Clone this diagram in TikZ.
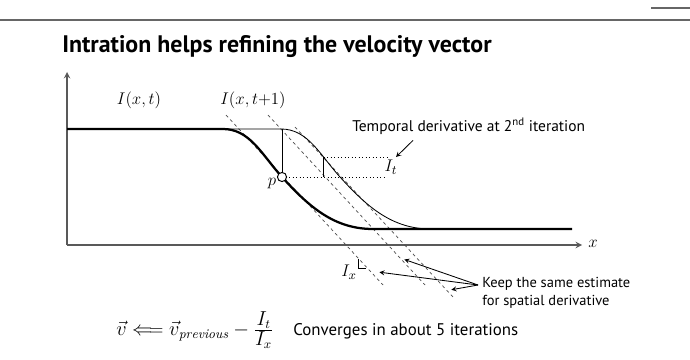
\documentclass[tikz,border=0pt]{standalone}
\usepackage{amsmath}
\usepackage{fontspec}
\setsansfont{PT Sans}
\usepackage{tikz}
\tikzstyle{rule}=[draw=black!60,line width=1.4pt]
\tikzstyle{axis}=[->,>=stealth,draw=black!65,line width=1pt]
\tikzstyle{thickcurve}=[line width=1.6pt]
\tikzstyle{thincurve}=[line width=0.6pt]
\tikzstyle{slope}=[draw=black!70,line width=0.5pt,dash pattern=on 2.2pt off 2.2pt]
\tikzstyle{guide}=[line width=0.5pt,dotted]
\tikzstyle{to}=[->,shorten >=1pt,>=stealth,semithick]
\tikzstyle{lbl}=[font=\sffamily\fontsize{10.3}{12.5}\selectfont,inner sep=0pt]
\tikzstyle{mth}=[font=\fontsize{11.5}{13}\selectfont,inner sep=0pt]

\begin{document}
\begin{tikzpicture}[x=0.025cm,y=-0.025cm]
            \useasboundingbox (0,0) rectangle (690,360);
            \draw[rule] (0,20) -- (690,20);
            \draw[rule,line width=0.8pt] (651,8) -- (690,8);
            \node[anchor=base west,inner sep=0pt,font=\sffamily\bfseries\fontsize{17}{20}\selectfont] (title) at (62,53)
                {Intration helps refining the velocity vector};

            % axes
            \coordinate (O) at (67,245);
            \draw[axis] (O) -- (67,72);
            \draw[axis] (O) -- (582,245);
            \node[mth] (xlab) at (593,244) {$x$};
            \node[mth] (Ixt) at (139,100) {$I(x,t)$};
            \node[mth] (Ixt1) at (253,100) {$I(x,t{+}1)$};

            % slopes
            \draw[slope] (226,115) -- (383,285);
            \draw[slope] (268,115) -- (425,285);
            \draw[slope] (295,127) -- (453,297);

            % image profiles
            \draw[thincurve] (223,129) -- (281,129)
                .. controls (308,129) and (320,155) .. (340,177)
                .. controls (368,208) and (393,229) .. (431,229);
            \draw[thickcurve] (67,129) -- (223,129)
                .. controls (250,129) and (262,155) .. (282,177)
                .. controls (310,208) and (335,229) .. (373,229) -- (572,229);

            % temporal derivative
            \coordinate (top) at (282,129);
            \coordinate (q) at (323.5,157);
            \coordinate (qd) at (323.5,177);
            \draw[guide] (282,177) -- (387,177);
            \draw[guide] (q) -- (387,157);
            \draw[thincurve] (top) -- (282,177);
            \draw[thincurve] (q) -- (qd);
            \node[circle,draw,fill=white,line width=0.7pt,inner sep=0pt,minimum size=6.5pt] (p) at (282,177) {};
            \node[mth,font=\fontsize{12.5}{14}\selectfont] (plab) at (272,184) {$p$};
            \node[mth,font=\fontsize{12.5}{14}\selectfont] (It) at (391,167) {$I_t$};
            \node[lbl,anchor=west,font=\sffamily\fontsize{11}{13}\selectfont] (temporal) at (352,126) {Temporal derivative at 2\textsuperscript{nd} iteration};
            \coordinate (ittip) at (395,158);
            \draw[to] ([shift={(61,6)}]temporal.south west) -- (ittip);

            % spatial derivative
            \draw[thincurve] (358,259) -- (358,268) -- (366,268);
            \node[mth,font=\fontsize{12.5}{14}\selectfont] (Ix) at (349,272) {$I_x$};
            \node[lbl,anchor=north west,align=left] (keep) at (482,277) {Keep the same estimate\\for spatial derivative};
            \coordinate (kp) at (478,285);
            \coordinate (k1) at (403,259);
            \coordinate (k2) at (378,272);
            \coordinate (k3) at (450,290);
            \draw[to] (kp) -- (k1);
            \draw[to] (kp) -- (k2);
            \draw[to] (kp) -- (k3);

            % update rule
            \node[mth,anchor=west,font=\fontsize{13.5}{15}\selectfont] (update) at (116,330)
                {$\vec{v} \Longleftarrow \vec{v}_{\mathit{previous}} - \frac{\textstyle I_t}{\textstyle I_x}$};
            \node[lbl,anchor=west,font=\sffamily\fontsize{12}{14}\selectfont] (conv) at (293,331) {Converges in about 5 iterations};
        \end{tikzpicture}
\end{document}
